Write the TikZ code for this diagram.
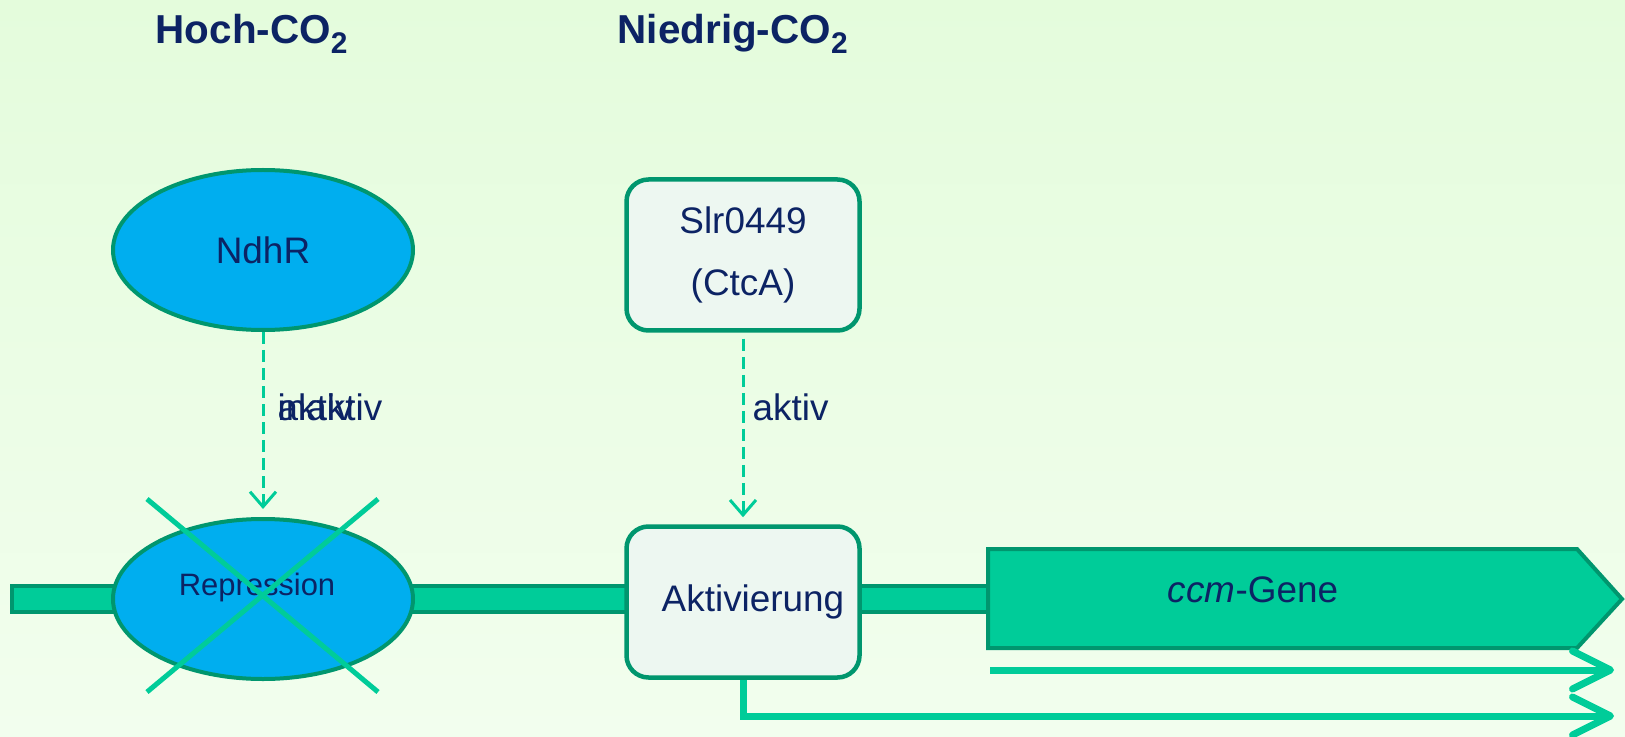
\documentclass[tikz,border=0pt]{standalone}
\usepackage{fontspec}
\setmainfont{Liberation Sans}
\usetikzlibrary{arrows.meta, shapes.geometric, positioning}

\definecolor{dunkelblau}{RGB}{12,35,100}
\definecolor{rand}{RGB}{0,150,110}
\definecolor{mint}{RGB}{0,204,153}
\definecolor{ndhblau}{RGB}{0,174,239}
\definecolor{kastenfill}{RGB}{237,247,241}
\definecolor{bgoben}{RGB}{228,252,220}
\definecolor{bgunten}{RGB}{242,254,238}

\newcommand{\tiefzwei}{\raisebox{-0.45ex}{\fontsize{8.5}{9}\selectfont 2}}

\tikzset{
  ellip/.style={ellipse, draw=rand, fill=ndhblau, line width=0.4mm, minimum width=30mm, minimum height=16mm, inner sep=0pt},
  kasten/.style={rectangle, rounded corners=2.2mm, draw=rand, fill=kastenfill, line width=0.45mm, minimum width=23.3mm, minimum height=15.1mm, align=center},
  txt/.style={text=dunkelblau, font=\fontsize{10.5}{17.4}\selectfont},
  titel/.style={text=dunkelblau, font=\fontsize{11.5}{14}\selectfont\bfseries, inner sep=0pt, anchor=base west},
  gestr/.style={draw=mint, line width=0.3mm, dash pattern=on 1.2mm off 0.6mm, -{Straight Barb[length=1.5mm,width=2.6mm]}},
  pfeil/.style={draw=mint, line width=0.7mm, -{Straight Barb[length=3.8mm,width=3.8mm,round]}},
}

\begin{document}
\begin{tikzpicture}[x=0.1mm, y=-0.1mm]
% Hintergrund
\useasboundingbox (0,0) rectangle (1625,736);
\fill[top color=bgoben, middle color=white, bottom color=bgunten] (0,0) rectangle (1625,736);
% Ueberschriften
\node[titel] (hoch) at (155,43.5) {Hoch-CO\tiefzwei};
\node[titel] (niedrig) at (617,43.5) {Niedrig-CO\tiefzwei};
% DNA-Strang und Gen
\draw[fill=mint, draw=rand, line width=0.35mm] (12,586) rectangle (988,612);
\draw[fill=mint, draw=rand, line width=0.4mm] (988,549) -- (1577,549) -- (1622,599) -- (1577,648) -- (988,648) -- cycle;
\node[txt] (gen) at (1253,590) {\textit{ccm}-Gene};
% Regulatoren
\node[ellip, txt] (ndhr) at (263,250) {NdhR};
\node[kasten, txt] (slr) at (743,255) {Slr0449\\(CtcA)};
% Bindestellen
\node[ellip] (rep) at (263,599) {};
\node[txt, font=\fontsize{8.8}{10}\selectfont] (reptext) at (257,587) {Repression};
\node[kasten, txt] (akt) at (743,602) {\hspace*{2mm}Aktivierung};
% Kreuz ueber Repression
\draw[mint, line width=0.5mm] (147,499) -- (378,692);
\draw[mint, line width=0.5mm] (147,692) -- (378,499);
% gestrichelte Pfeile
\draw[gestr, shorten >=0.8mm] (ndhr.south) -- (rep.north);
\draw[gestr, shorten <=0.6mm, shorten >=0.7mm] (slr.south) -- (akt.north);
\node[txt, inner sep=0pt, anchor=base west] (inaktiv) at (277,420) {inaktiv};
\node[txt, inner sep=0pt, anchor=base west] (aktiv1) at (277,420) {aktiv};
\node[txt, inner sep=0pt, anchor=base west] (aktiv2) at (752,420) {aktiv};
% Transkripte
\coordinate (s1) at (990,670);
\coordinate (e1) at (1614,670);
\coordinate (e2) at (1614,716);
\draw[pfeil] (s1) -- (e1);
\draw[pfeil] (akt.south) |- (e2);
\end{tikzpicture}
\end{document}
